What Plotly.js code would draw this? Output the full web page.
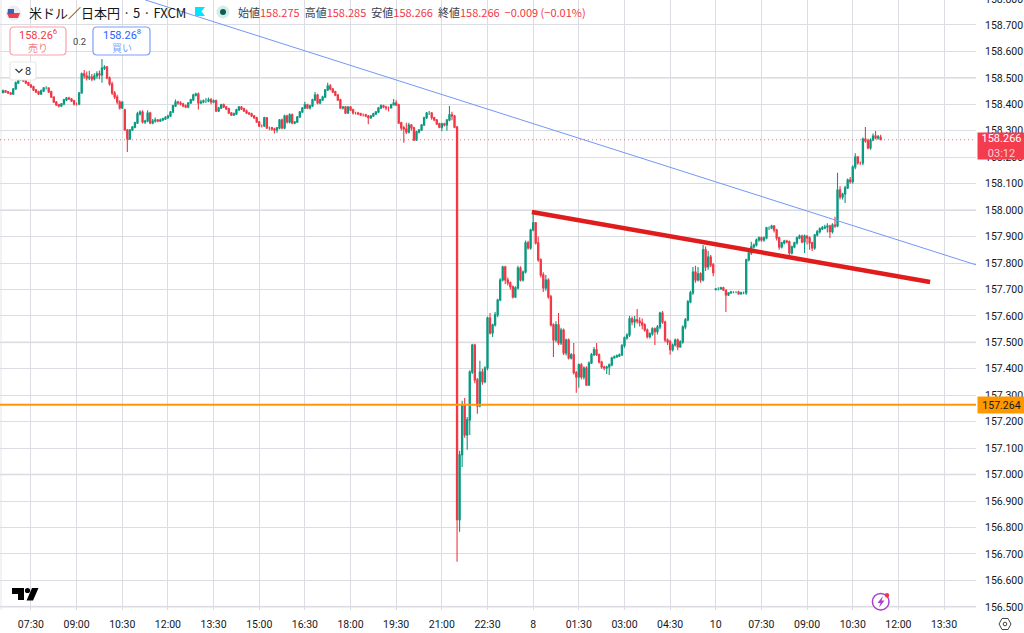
<!DOCTYPE html>
<html lang="ja">
<head>
<meta charset="utf-8">
<title>米ドル／日本円</title>
<script src="https://cdn.plot.ly/plotly-3.0.1.min.js"></script>
<style>
  html, body { margin: 0; padding: 0; background: #fff; }
  #chart { width: 1024px; height: 633px; }
</style>
</head>
<body>
<div id="chart"></div>
<script>
// 5分足 (左から順に1本ずつ、画像から読み取り)
const opens = [
  158.445,158.451,158.447,158.443,158.439,158.458,158.481,158.496,158.496,158.488,
  158.481,158.473,158.466,158.454,158.447,158.439,158.451,158.462,158.462,158.447,
  158.428,158.409,158.398,158.394,158.401,158.417,158.424,158.420,158.413,158.401,
  158.401,158.443,158.515,158.507,158.500,158.503,158.496,158.507,158.515,158.511,
  158.537,158.541,158.500,158.477,158.443,158.428,158.409,158.386,158.379,158.303,
  158.269,158.303,158.314,158.330,158.364,158.371,158.333,158.337,158.367,158.330,
  158.337,158.341,158.337,158.341,158.345,158.349,158.356,158.371,158.394,158.409,
  158.405,158.401,158.394,158.390,158.405,158.417,158.435,158.439,158.405,158.409,
  158.413,158.413,158.417,158.409,158.413,158.375,158.386,158.398,158.390,158.383,
  158.367,158.360,158.364,158.379,158.390,158.383,158.375,158.367,158.364,158.356,
  158.349,158.333,158.318,158.318,158.349,158.311,158.311,158.307,158.303,158.311,
  158.341,158.311,158.356,158.333,158.360,158.330,158.333,158.352,158.371,158.386,
  158.398,158.386,158.394,158.417,158.435,158.405,158.417,158.428,158.454,158.469,
  158.458,158.447,158.435,158.417,158.386,158.390,158.367,158.390,158.379,158.367,
  158.367,158.364,158.360,158.360,158.356,158.349,158.356,158.364,158.371,158.386,
  158.394,158.390,158.386,158.386,158.398,158.405,158.398,158.330,158.311,158.307,
  158.296,158.322,158.311,158.265,158.296,158.303,158.322,158.349,158.367,158.367,
  158.349,158.341,158.326,158.314,158.326,158.322,158.341,158.360,158.356,158.314,
  156.829,157.075,157.264,157.150,157.207,157.388,157.490,157.358,157.260,157.388,
  157.351,157.403,157.592,157.536,157.566,157.604,157.660,157.736,157.785,157.736,
  157.725,157.710,157.672,157.706,157.781,157.736,157.766,157.876,157.857,157.925,
  157.952,157.876,157.812,157.755,157.706,157.736,157.672,157.566,157.509,157.566,
  157.498,157.547,157.460,157.509,157.441,157.453,157.385,157.369,157.415,157.369,
  157.403,157.339,157.422,157.453,157.472,157.453,157.426,157.407,157.403,157.407,
  157.415,157.441,157.445,157.449,157.453,157.487,157.517,157.528,157.589,157.577,
  157.585,157.581,157.574,157.566,157.547,157.521,157.532,157.551,157.540,157.558,
  157.611,157.577,157.509,157.502,157.472,157.490,157.509,157.483,157.502,157.558,
  157.585,157.653,157.687,157.766,157.736,157.759,157.736,157.850,157.785,157.823,
  157.793,157.700,157.702,157.702,157.706,157.698,157.679,157.687,157.690,157.690,
  157.690,157.683,157.687,157.687,157.812,157.838,157.861,157.868,157.887,157.895,
  157.887,157.895,157.933,157.933,157.940,157.925,157.895,157.861,157.876,157.883,
  157.880,157.838,157.861,157.876,157.895,157.902,157.880,157.902,157.895,157.876,
  157.857,157.906,157.918,157.929,157.933,157.936,157.940,157.918,157.944,157.940,
  158.076,158.050,158.061,158.084,158.114,158.107,158.163,158.201,158.178,158.178,
  158.269,158.262,158.235,158.265,158.280,158.273,158.275
];
const highs = [
  158.456,158.454,158.450,158.447,158.462,158.486,158.507,158.503,158.499,158.492,
  158.485,158.477,158.470,158.458,158.451,158.456,158.466,158.468,158.465,158.451,
  158.431,158.413,158.402,158.405,158.421,158.428,158.429,158.424,158.417,158.407,
  158.447,158.520,158.530,158.524,158.527,158.515,158.518,158.525,158.528,158.571,
  158.548,158.545,158.505,158.485,158.450,158.436,158.415,158.412,158.383,158.307,
  158.307,158.318,158.334,158.372,158.378,158.378,158.342,158.378,158.372,158.345,
  158.350,158.345,158.346,158.349,158.356,158.361,158.375,158.398,158.418,158.414,
  158.412,158.406,158.399,158.409,158.421,158.440,158.444,158.445,158.417,158.418,
  158.424,158.426,158.424,158.418,158.418,158.391,158.402,158.403,158.394,158.387,
  158.371,158.369,158.383,158.394,158.394,158.387,158.380,158.371,158.368,158.360,
  158.353,158.337,158.324,158.353,158.352,158.316,158.315,158.311,158.314,158.345,
  158.346,158.361,158.361,158.366,158.365,158.337,158.356,158.375,158.390,158.410,
  158.402,158.398,158.421,158.447,158.440,158.421,158.432,158.458,158.482,158.477,
  158.462,158.451,158.439,158.421,158.394,158.394,158.394,158.394,158.383,158.372,
  158.372,158.368,158.365,158.364,158.360,158.360,158.368,158.375,158.390,158.400,
  158.398,158.395,158.392,158.402,158.420,158.415,158.402,158.334,158.319,158.330,
  158.330,158.326,158.315,158.300,158.307,158.326,158.353,158.371,158.375,158.371,
  158.353,158.345,158.330,158.330,158.330,158.345,158.394,158.372,158.360,158.318,
  157.090,157.279,157.290,157.218,157.395,157.495,157.495,157.365,157.430,157.400,
  157.410,157.598,157.611,157.570,157.615,157.665,157.742,157.790,157.790,157.745,
  157.730,157.715,157.712,157.790,157.788,157.772,157.885,157.884,157.930,157.990,
  157.955,157.900,157.818,157.765,157.755,157.742,157.680,157.572,157.580,157.611,
  157.555,157.552,157.515,157.515,157.460,157.498,157.392,157.420,157.422,157.410,
  157.410,157.428,157.460,157.482,157.498,157.458,157.430,157.412,157.412,157.420,
  157.446,157.450,157.454,157.458,157.494,157.522,157.534,157.600,157.598,157.600,
  157.626,157.595,157.590,157.572,157.552,157.538,157.557,157.556,157.566,157.616,
  157.619,157.582,157.515,157.510,157.496,157.515,157.515,157.508,157.565,157.592,
  157.660,157.695,157.785,157.790,157.785,157.765,157.868,157.862,157.845,157.830,
  157.800,157.706,157.708,157.710,157.710,157.700,157.690,157.695,157.693,157.693,
  157.695,157.691,157.692,157.816,157.845,157.880,157.874,157.893,157.900,157.900,
  157.900,157.937,157.938,157.945,157.944,157.930,157.899,157.880,157.888,157.888,
  157.885,157.866,157.880,157.900,157.908,157.907,157.908,157.905,157.900,157.880,
  157.910,157.925,157.935,157.940,157.945,157.950,157.945,157.950,157.975,158.141,
  158.090,158.066,158.092,158.120,158.125,158.170,158.215,158.205,158.184,158.275,
  158.314,158.270,158.272,158.290,158.299,158.284,158.285
];
const lows = [
  158.441,158.443,158.439,158.435,158.435,158.455,158.477,158.488,158.484,158.477,
  158.469,158.462,158.450,158.443,158.435,158.435,158.447,158.456,158.443,158.424,
  158.405,158.394,158.388,158.390,158.397,158.413,158.416,158.409,158.396,158.396,
  158.397,158.440,158.497,158.490,158.492,158.487,158.490,158.497,158.495,158.482,
  158.530,158.495,158.470,158.435,158.420,158.400,158.380,158.382,158.300,158.220,
  158.265,158.299,158.310,158.326,158.358,158.328,158.326,158.332,158.325,158.325,
  158.330,158.332,158.333,158.336,158.341,158.345,158.352,158.367,158.390,158.398,
  158.396,158.389,158.385,158.385,158.401,158.413,158.430,158.380,158.400,158.404,
  158.405,158.408,158.400,158.404,158.371,158.371,158.382,158.386,158.379,158.363,
  158.356,158.356,158.360,158.375,158.379,158.371,158.363,158.360,158.352,158.345,
  158.329,158.314,158.312,158.314,158.307,158.302,158.300,158.290,158.293,158.306,
  158.306,158.306,158.328,158.328,158.325,158.325,158.329,158.348,158.367,158.382,
  158.382,158.380,158.390,158.413,158.400,158.400,158.413,158.424,158.450,158.452,
  158.443,158.431,158.413,158.382,158.380,158.363,158.363,158.375,158.362,158.362,
  158.360,158.356,158.354,158.351,158.325,158.345,158.352,158.360,158.367,158.382,
  158.385,158.378,158.373,158.394,158.400,158.394,158.326,158.300,158.255,158.288,
  158.290,158.300,158.261,158.261,158.290,158.299,158.318,158.345,158.360,158.342,
  158.336,158.322,158.310,158.298,158.316,158.300,158.336,158.340,158.310,156.670,
  156.784,157.029,157.139,157.094,157.150,157.380,157.345,157.230,157.255,157.340,
  157.345,157.395,157.530,157.520,157.560,157.595,157.655,157.730,157.720,157.715,
  157.700,157.666,157.668,157.700,157.730,157.730,157.760,157.850,157.850,157.920,
  157.870,157.805,157.745,157.690,157.695,157.665,157.560,157.445,157.500,157.490,
  157.490,157.452,157.450,157.435,157.435,157.378,157.309,157.328,157.360,157.360,
  157.335,157.335,157.418,157.448,157.448,157.420,157.400,157.395,157.380,157.377,
  157.410,157.438,157.442,157.445,157.448,157.480,157.510,157.520,157.565,157.555,
  157.570,157.560,157.550,157.540,157.515,157.515,157.525,157.490,157.530,157.550,
  157.570,157.500,157.490,157.453,157.465,157.484,157.470,157.480,157.495,157.550,
  157.580,157.648,157.680,157.725,157.730,157.725,157.730,157.770,157.775,157.785,
  157.750,157.696,157.696,157.699,157.694,157.615,157.675,157.684,157.686,157.686,
  157.680,157.682,157.682,157.680,157.806,157.830,157.855,157.862,157.880,157.880,
  157.880,157.890,157.925,157.928,157.915,157.885,157.850,157.855,157.870,157.875,
  157.825,157.832,157.856,157.870,157.890,157.875,157.838,157.870,157.850,157.845,
  157.850,157.900,157.912,157.925,157.928,157.915,157.895,157.912,157.932,157.935,
  158.040,158.040,158.027,158.080,158.100,158.100,158.155,158.172,158.172,158.170,
  158.255,158.230,158.228,158.260,158.268,158.266,158.266
];
const closes = [
  158.451,158.447,158.443,158.439,158.458,158.481,158.496,158.496,158.488,158.481,
  158.473,158.466,158.454,158.447,158.439,158.451,158.462,158.462,158.447,158.428,
  158.409,158.398,158.394,158.401,158.417,158.424,158.420,158.413,158.401,158.401,
  158.443,158.515,158.507,158.500,158.503,158.496,158.507,158.515,158.511,158.537,
  158.541,158.500,158.477,158.443,158.428,158.409,158.386,158.409,158.303,158.269,
  158.303,158.314,158.330,158.364,158.371,158.333,158.337,158.367,158.330,158.337,
  158.341,158.337,158.341,158.345,158.349,158.356,158.371,158.394,158.409,158.405,
  158.401,158.394,158.390,158.405,158.417,158.435,158.439,158.405,158.409,158.413,
  158.413,158.417,158.409,158.413,158.375,158.386,158.398,158.390,158.383,158.367,
  158.360,158.364,158.379,158.390,158.383,158.375,158.367,158.364,158.356,158.349,
  158.333,158.318,158.318,158.349,158.311,158.311,158.307,158.303,158.311,158.341,
  158.311,158.356,158.333,158.360,158.330,158.333,158.352,158.371,158.386,158.398,
  158.386,158.394,158.417,158.435,158.405,158.417,158.428,158.454,158.469,158.458,
  158.447,158.435,158.417,158.386,158.390,158.367,158.390,158.379,158.367,158.367,
  158.364,158.360,158.360,158.356,158.349,158.356,158.364,158.371,158.386,158.394,
  158.390,158.386,158.386,158.398,158.405,158.398,158.330,158.311,158.307,158.296,
  158.322,158.311,158.265,158.296,158.303,158.322,158.349,158.367,158.367,158.349,
  158.341,158.326,158.314,158.326,158.322,158.341,158.360,158.356,158.314,156.829,
  157.075,157.264,157.150,157.207,157.388,157.490,157.358,157.260,157.388,157.351,
  157.403,157.592,157.536,157.566,157.604,157.660,157.736,157.785,157.736,157.725,
  157.710,157.672,157.706,157.781,157.736,157.766,157.876,157.857,157.925,157.952,
  157.876,157.812,157.755,157.706,157.736,157.672,157.566,157.509,157.566,157.498,
  157.547,157.460,157.509,157.441,157.453,157.385,157.369,157.415,157.369,157.403,
  157.339,157.422,157.453,157.472,157.453,157.426,157.407,157.403,157.407,157.415,
  157.441,157.445,157.449,157.453,157.487,157.517,157.528,157.589,157.577,157.585,
  157.581,157.574,157.566,157.547,157.521,157.532,157.551,157.540,157.558,157.611,
  157.577,157.509,157.502,157.472,157.490,157.509,157.483,157.502,157.558,157.585,
  157.653,157.687,157.766,157.736,157.759,157.736,157.850,157.785,157.823,157.793,
  157.763,157.702,157.702,157.706,157.698,157.679,157.687,157.690,157.690,157.690,
  157.683,157.687,157.687,157.812,157.838,157.861,157.868,157.887,157.895,157.887,
  157.895,157.933,157.933,157.940,157.925,157.895,157.861,157.876,157.883,157.880,
  157.838,157.861,157.876,157.895,157.902,157.880,157.902,157.895,157.876,157.857,
  157.906,157.918,157.929,157.933,157.936,157.940,157.918,157.944,157.940,158.076,
  158.050,158.061,158.084,158.114,158.107,158.163,158.201,158.178,158.178,158.269,
  158.262,158.235,158.265,158.280,158.273,158.277,158.266
];
const firstBar = -11;   // 07:30 の足を 0 番とする
const barIdx = closes.map((_, i) => i + firstBar);

// 時間軸ラベル (18本 = 90分ごと)
const timeTicks = [0,18,36,54,72,90,108,126,144,162,180,198,216,234,252,270,288,306,324,342,360];
const timeLabels = ['07:30','09:00','10:30','12:00','13:30','15:00','16:30','18:00','19:30','21:00','22:30',
                    '8','01:30','03:00','04:30','10','07:30','09:00','10:30','12:00','13:30'];

// 水平線とトレンドライン
const lastPrice = 158.266;
const levelPrice = 157.264;
const blueLineX = [45, 372.6];
const blueLineY = [158.795, 157.793];
const redLineX = [197.5, 354.5];
const redLineY = [157.993, 157.728];

const UP = '#089981', DOWN = '#F23645', INK = '#131722';
const JP = '"Noto Sans CJK JP", "Noto Sans", sans-serif';
const NUM = 'Roboto, "Noto Sans", sans-serif';
const W = 976, H = 610;   // プロット領域 (px)

// ── px → paper ────────────────────────────────
const px = x => x / W;
const py = y => 1 - y / H;

function poly(pts, fill) {
  const d = pts.map((p, i) => (i ? 'L' : 'M') + px(p[0]) + ',' + py(p[1])).join(' ') + ' Z';
  return { type: 'path', xref: 'paper', yref: 'paper', path: d, fillcolor: fill, line: { width: 0 } };
}
function circle(cx, cy, r, fill, stroke, sw) {
  return { type: 'circle', xref: 'paper', yref: 'paper',
    x0: px(cx - r), x1: px(cx + r), y0: py(cy + r), y1: py(cy - r),
    fillcolor: fill, line: stroke ? { color: stroke, width: sw || 1 } : { width: 0 } };
}
function roundBox(x0, y0, x1, y1, r, stroke) {
  const P = (x, y) => px(x) + ',' + py(y);
  const d = 'M' + P(x0 + r, y0) + ' L' + P(x1 - r, y0) + ' Q' + P(x1, y0) + ' ' + P(x1, y0 + r) +
    ' L' + P(x1, y1 - r) + ' Q' + P(x1, y1) + ' ' + P(x1 - r, y1) +
    ' L' + P(x0 + r, y1) + ' Q' + P(x0, y1) + ' ' + P(x0, y1 - r) +
    ' L' + P(x0, y0 + r) + ' Q' + P(x0, y0) + ' ' + P(x0 + r, y0) + ' Z';
  return { type: 'path', xref: 'paper', yref: 'paper', path: d, fillcolor: '#fff', line: { color: stroke, width: 1.2 } };
}
function label(x, y, text, size, color, anchor, family) {
  return { xref: 'paper', yref: 'paper', x: px(x), y: py(y), text, showarrow: false,
    xanchor: anchor || 'left', yanchor: 'middle', borderpad: 0,
    font: { family: family || JP, size, color } };
}
function tag(y0, y1, text, bg, color, size) {
  return { xref: 'paper', yref: 'paper', x: px(977), y: py((y0 + y1) / 2), xanchor: 'left', yanchor: 'middle',
    width: 47, height: y1 - y0, bgcolor: bg, borderpad: 0, align: 'center', showarrow: false, text,
    font: { family: NUM, size: size || 11, color } };
}

// ── 太いグリッド (0.5 刻み) ───────────────────
const majorLevels = [156.5, 157, 157.5, 158, 158.5];
const majorGrid = majorLevels.map(v => ({
  type: 'line', xref: 'paper', yref: 'y', x0: 0, x1: 1, y0: v, y1: v, layer: 'below',
  line: { color: '#e9e9ec', width: 2 },
}));

const shapes = [
  ...majorGrid,
  { type: 'line', xref: 'paper', yref: 'paper', x0: px(1), x1: px(1), y0: 0, y1: 1, layer: 'below', line: { color: '#e6e6e6', width: 1 } },
  { type: 'line', xref: 'paper', yref: 'y', x0: 0, x1: 1, y0: lastPrice, y1: lastPrice, line: { color: 'rgba(242,54,69,0.75)', width: 1, dash: '1px,3px' } },
  { type: 'line', xref: 'paper', yref: 'y', x0: 0, x1: 1, y0: levelPrice, y1: levelPrice, line: { color: '#FF9800', width: 2 } },
  // ヘッダーのアイコン
  circle(13.5, 13, 7.5, '#ecedf3'),
  poly([[7, 13], [20, 13], [18, 18], [9, 18]], '#e8434f'),
  poly([[8, 9], [14, 9], [14, 14], [7.5, 14]], '#3b62b5'),
  poly([[195, 7], [205, 7], [201.5, 11.5], [205, 16], [195, 16]], '#00e5ff'),
  circle(223, 12, 6.5, '#d6ece8'),
  circle(223, 12, 3, '#0b5f52'),
  // 売り / 買い
  roundBox(10, 27, 66, 55, 4, '#f7a3ab'),
  roundBox(93, 27, 150, 55, 4, '#7d9ffb'),
  roundBox(10, 62, 36, 80, 2, '#e8e8e8'),
  { type: 'path', xref: 'paper', yref: 'paper', line: { color: '#333', width: 1.2 },
    path: 'M' + px(15.5) + ',' + py(69) + ' L' + px(19) + ',' + py(72.5) + ' L' + px(22.5) + ',' + py(69) },
  // TVロゴ
  poly([[12, 588], [24, 588], [24, 600], [18, 600], [18, 594], [12, 594]], '#000'),
  circle(27.5, 590.5, 2.6, '#000'),
  poly([[32, 588], [38.5, 588], [33, 600.5], [26.5, 600.5]], '#000'),
  // 稲妻
  circle(880.7, 601.7, 8.3, '#fff', '#a93fcb', 1.5),
  poly([[883, 596], [877.5, 603], [880.5, 603], [879, 607.5], [884.5, 600.5], [881.5, 600.5]], '#a93fcb'),
  circle(887, 595.3, 2.2, DOWN),
  // 設定
  { type: 'path', xref: 'paper', yref: 'paper', line: { color: '#444', width: 1 },
    path: 'M' + px(1002) + ',' + py(618.5) + ' L' + px(1008) + ',' + py(618.5) + ' L' + px(1011) + ',' + py(624) +
      ' L' + px(1008) + ',' + py(629.5) + ' L' + px(1002) + ',' + py(629.5) + ' L' + px(999) + ',' + py(624) + ' Z' },
  circle(1005, 624, 1.8, '#fff', '#444', 1),
];

const ohlcText =
  '始値<span style="color:' + DOWN + '">158.275</span>  ' +
  '高値<span style="color:' + DOWN + '">158.285</span>  ' +
  '安値<span style="color:' + DOWN + '">158.266</span>  ' +
  '終値<span style="color:' + DOWN + '">158.266</span>  ' +
  '<span style="color:' + DOWN + '">−0.009 (−0.01%)</span>';

const annotations = [
  label(28, 13, '米ドル／日本円 · 5 · FXCM', 13, INK),
  label(237, 12.5, ohlcText, 11, '#3a3e4a'),
  label(38, 35, '158.26<sup>6</sup>', 11, DOWN, 'center', NUM),
  label(38, 47, '売り', 10, '#f2838c', 'center'),
  label(79.5, 41, '0.2', 9.5, '#444', 'center', NUM),
  label(121.5, 35, '158.26<sup>8</sup>', 11, '#2962FF', 'center', NUM),
  label(121.5, 47, '買い', 10, '#7d9ffb', 'center'),
  label(28, 71, '8', 11, '#333', 'center', NUM),
  label(984, -1, '158.800', 10.5, INK, 'left', NUM),
  tag(133, 159, '158.266<br><span style="color:rgba(255,255,255,0.75)">03:12</span>', '#F33D4F', '#fff', 11),
  tag(397, 413, '157.264', '#FF9800', INK, 10.5),
];

const traces = [
  {
    type: 'candlestick', x: barIdx, open: opens, high: highs, low: lows, close: closes,
    increasing: { line: { color: UP, width: 1.1 }, fillcolor: UP },
    decreasing: { line: { color: DOWN, width: 1.1 }, fillcolor: DOWN },
    hoverinfo: 'skip',
  },
  { type: 'scatter', mode: 'lines', x: blueLineX, y: blueLineY, line: { color: '#7396fb', width: 1 }, hoverinfo: 'skip' },
  { type: 'scatter', mode: 'lines', x: redLineX, y: redLineY, line: { color: '#e01c1c', width: 4.5 }, hoverinfo: 'skip' },
];

const layout = {
  width: 1024, height: 633,
  margin: { l: 0, r: 48, t: 0, b: 23, pad: 0 },
  paper_bgcolor: '#fff', plot_bgcolor: '#fff',
  showlegend: false, dragmode: false,
  xaxis: {
    type: 'linear', range: [-12.2, 372.6], rangeslider: { visible: false },
    tickmode: 'array', tickvals: timeTicks, ticktext: timeLabels,
    showgrid: true, gridcolor: '#dcdde2', gridwidth: 1, zeroline: false, showline: false, ticks: '',
    ticklabelstandoff: 6,
    tickfont: { family: NUM, size: 10.5, color: INK },
  },
  yaxis: {
    side: 'right', range: [156.488, 158.7945], tick0: 156.5, dtick: 0.1, tickformat: '.3f',
    showgrid: true, gridcolor: '#dcdde2', gridwidth: 1, zeroline: false, showline: false, ticks: '',
    ticklabelstandoff: 8,
    tickfont: { family: NUM, size: 10.5, color: INK },
  },
  shapes, annotations,
};

Plotly.newPlot('chart', traces, layout, { displayModeBar: false, staticPlot: true });
</script>
</body>
</html>
